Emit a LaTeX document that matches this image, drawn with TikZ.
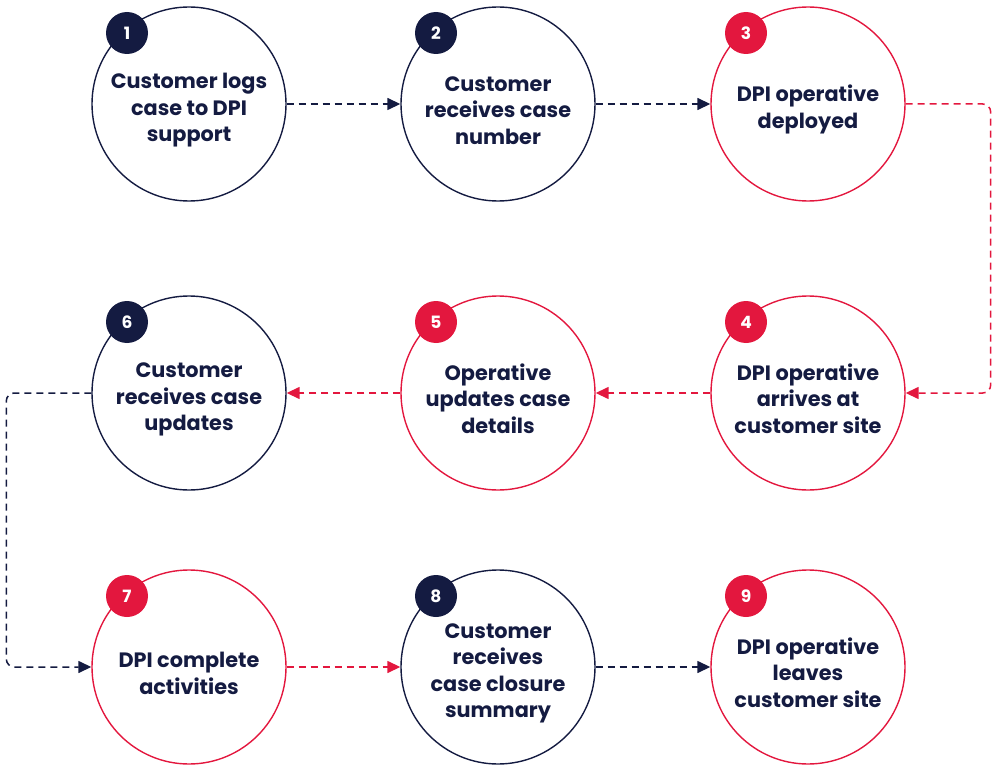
\documentclass[tikz,border=0pt]{standalone}
\usepackage{fontspec}
\setmainfont{Poppins}
\usepackage{xcolor}
\usetikzlibrary{arrows.meta,positioning,calc}

\definecolor{dpinavy}{HTML}{141B41}
\definecolor{dpired}{HTML}{E3173E}

% pushes the text block of a stage a little below the circle centre
\newcommand{\stagepad}{\rule{0pt}{28pt}}

\tikzset{
  stage/.style={circle, draw=#1, line width=1.4pt, minimum size=194pt, inner sep=0pt,
    align=center, text=dpinavy, font=\bfseries\fontsize{20.8}{26.5}\selectfont},
  badge/.style={circle, fill=#1, minimum size=42pt, inner sep=0pt, text=white,
    font=\bfseries\fontsize{17}{18}\selectfont},
  flow/.style={draw=#1, line width=1.5pt, dash pattern=on 7pt off 5pt, rounded corners=8pt,
    -{Triangle[length=13pt,width=12pt]}},
}

\begin{document}
\begin{tikzpicture}[x=1pt, y=-1pt]
    \useasboundingbox (0,0) rectangle (997,768);

    % Row 1
    \node[stage=dpinavy] (c1) at (189,104) {\stagepad Customer logs\\case to DPI\\support};
    \node[stage=dpinavy] (c2) at (498,104) {\stagepad Customer\\receives case\\number};
    \node[stage=dpired]  (c3) at (808,104) {\stagepad DPI operative\\deployed};

    % Row 2
    \node[stage=dpinavy] (c6) at (189,393) {\stagepad Customer\\receives case\\updates};
    \node[stage=dpired]  (c5) at (498,393) {\stagepad Operative\\updates case\\details};
    \node[stage=dpired]  (c4) at (808,393) {\stagepad DPI operative\\arrives at\\customer site};

    % Row 3
    \node[stage=dpired]  (c7) at (189,667) {\stagepad DPI complete\\activities};
    \node[stage=dpinavy] (c8) at (498,667) {\stagepad Customer\\receives\\case closure\\summary};
    \node[stage=dpired]  (c9) at (808,667) {\stagepad DPI operative\\leaves\\customer site};

    % Number badges
    \node[badge=dpinavy] (b1) at ($(c1)+(-62,-71)$) {1};
    \node[badge=dpinavy] (b2) at ($(c2)+(-62,-71)$) {2};
    \node[badge=dpired]  (b3) at ($(c3)+(-62,-71)$) {3};
    \node[badge=dpired]  (b4) at ($(c4)+(-62,-71)$) {4};
    \node[badge=dpired]  (b5) at ($(c5)+(-62,-71)$) {5};
    \node[badge=dpinavy] (b6) at ($(c6)+(-62,-71)$) {6};
    \node[badge=dpired]  (b7) at ($(c7)+(-62,-71)$) {7};
    \node[badge=dpinavy] (b8) at ($(c8)+(-62,-71)$) {8};
    \node[badge=dpired]  (b9) at ($(c9)+(-62,-71)$) {9};

    % Connectors
    \draw[flow=dpinavy] (c1) -- (c2);
    \draw[flow=dpinavy] (c2) -- (c3);
    \draw[flow=dpired] (c3.east) -- ++(85,0) |- (c4.east);
    \draw[flow=dpired] (c4) -- (c5);
    \draw[flow=dpired] (c5) -- (c6);
    \draw[flow=dpinavy] (c6.west) -- ++(-85,0) |- (c7.west);
    \draw[flow=dpired] (c7) -- (c8);
    \draw[flow=dpinavy] (c8) -- (c9);
\end{tikzpicture}
\end{document}
